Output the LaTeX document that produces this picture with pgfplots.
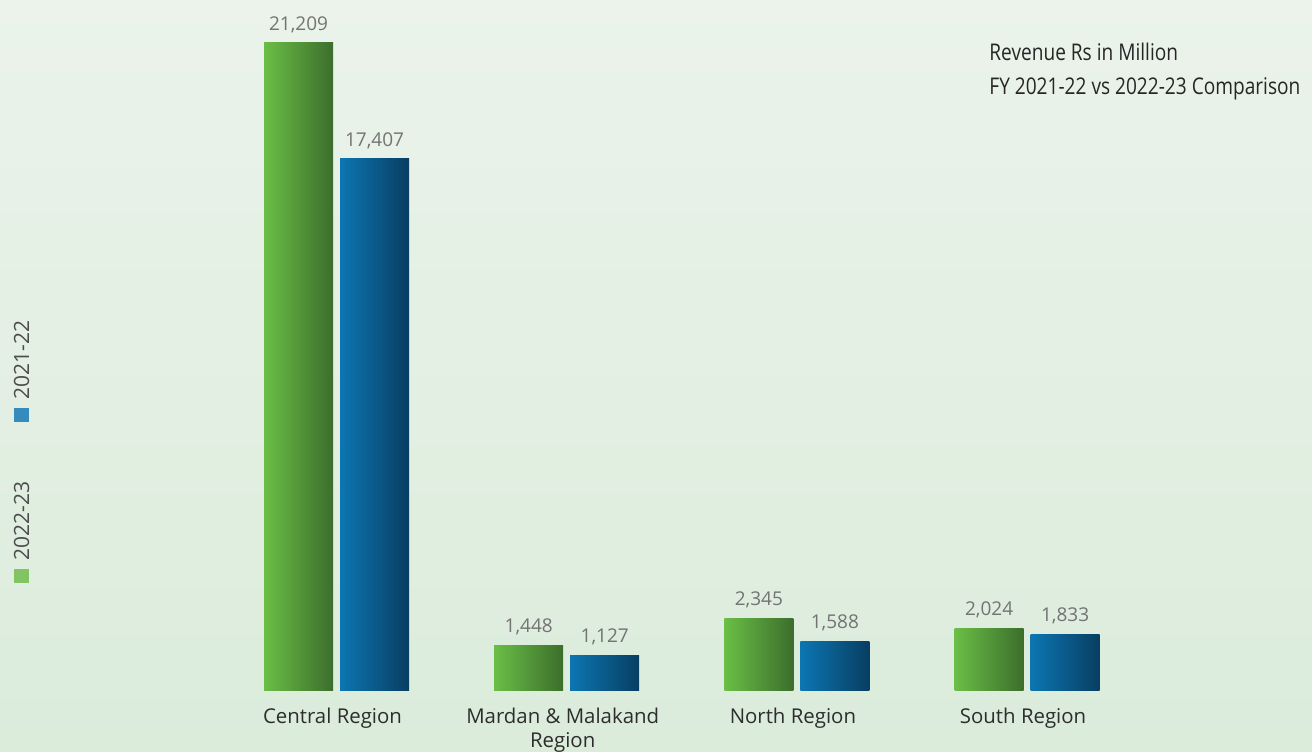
\documentclass[border=0pt]{standalone}
\usepackage{fontspec}
\setmainfont{Open Sans}
\newfontfamily\condensed[FakeStretch=0.83]{Open Sans}
\usepackage{pgfplots}
\pgfplotsset{compat=1.18}
\definecolor{bgtop}{RGB}{235,243,235}
\definecolor{bgbot}{RGB}{219,236,219}
\definecolor{gL}{RGB}{106,190,70}
\definecolor{gR}{RGB}{60,110,44}
\definecolor{bL}{RGB}{12,118,178}
\definecolor{bR}{RGB}{8,62,98}
\definecolor{valgray}{RGB}{115,115,115}
\definecolor{labdark}{RGB}{45,45,45}
\definecolor{legG}{RGB}{128,196,100}
\definecolor{legB}{RGB}{52,140,190}
\begin{document}
\begin{tikzpicture}
\shade[top color=bgtop, bottom color=bgbot] (0,0) rectangle (656pt,375.5pt);
\begin{axis}[
  at={(110.7pt,30.5pt)}, anchor=south west,
  scale only axis, width=460.4pt, height=335.6pt,
  xmin=-0.5, xmax=3.5, ymin=0, ymax=22000,
  axis line style={draw=none}, tick style={draw=none},
  ytick=\empty,
  xtick={0,1,2,3},
  xticklabels={Central Region, {Mardan \& Malakand\\Region}, North Region, South Region},
  xticklabel style={align=center, font=\fontsize{10.2pt}{12pt}\selectfont, text=labdark, yshift=-1pt, xshift=-2pt},
  ybar, bar width=34.5pt,
  /pgf/number format/.cd, fixed, precision=0, 1000 sep={{,}}, assume math mode=true,
  /pgfplots/.cd,
  nodes near coords,
  nodes near coords style={font=\fontsize{9.5pt}{11pt}\selectfont, text=valgray, inner sep=5pt},
  clip=false,
  gbar/.style={draw=none, left color=gL, right color=gR, bar shift=-19pt},
  bbar/.style={draw=none, left color=bL, right color=bR, bar shift=19pt},
]
\addplot[gbar] coordinates {(0,21209)};
\addplot[gbar] coordinates {(1,1448)};
\addplot[gbar] coordinates {(2,2345)};
\addplot[gbar] coordinates {(3,2024)};
\addplot[bbar] coordinates {(0,17407)};
\addplot[bbar] coordinates {(1,1127)};
\addplot[bbar] coordinates {(2,1588)};
\addplot[bbar] coordinates {(3,1833)};
\end{axis}
\node[anchor=north west, align=left, font=\condensed\fontsize{11.5pt}{17pt}\selectfont, text=black!85, inner sep=0pt] at (494.5pt,354pt) {Revenue Rs in Million\\FY 2021-22 vs 2022-23 Comparison};
% legend
\fill[legB] (7pt,164.5pt) rectangle (14.5pt,171.5pt);
\node[rotate=90, anchor=west, font=\fontsize{10.5pt}{12pt}\selectfont, text=black!70, inner sep=0pt] at (10.75pt,175.5pt) {2021-22};
\fill[legG] (7pt,84pt) rectangle (14.5pt,91pt);
\node[rotate=90, anchor=west, font=\fontsize{10.5pt}{12pt}\selectfont, text=black!70, inner sep=0pt] at (10.75pt,95pt) {2022-23};
\pgfresetboundingbox
\path[use as bounding box] (0,0) rectangle (656pt,375.5pt);
\end{tikzpicture}
\end{document}
